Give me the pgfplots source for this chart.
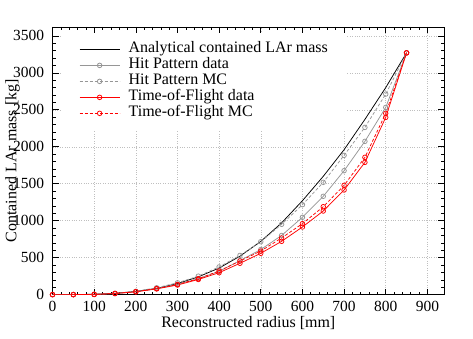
\documentclass[border=0pt]{standalone}
\usepackage{fontspec}
\setmainfont{Liberation Serif}
\usepackage{pgfplots}
\pgfplotsset{compat=1.18}
\definecolor{tofred}{RGB}{255,0,0}
\definecolor{hpgray}{RGB}{150,150,150}

\begin{document}
\fontsize{16}{18}\selectfont
\begin{tikzpicture}
\begin{axis}[
  scale only axis,
  width=392pt, height=268pt,
  xmin=0, xmax=940,
  ymin=0, ymax=3620,
  xtick={0,100,...,900},
  ytick={0,500,...,3500},
  minor x tick num=4,
  minor y tick num=4,
  tick align=inside,
  major tick length=6pt,
  minor tick length=3pt,
  axis line style={line width=0.9pt},
  every tick/.style={black, line width=0.6pt},
  grid=major,
  grid style={dotted, gray!50, line width=0.5pt},
  /pgf/number format/1000 sep={},
  /pgf/number format/assume math mode=true,
  ticklabel style={font=\fontsize{15.5}{17}\selectfont},
  yticklabel style={xshift=-3pt},
  xticklabel style={yshift=-1pt},
  xlabel={Reconstructed radius [mm]},
  ylabel={Contained LAr mass [kg]},
  every axis x label/.style={at={(axis description cs:0.5,-0.124)}, anchor=base,
    font=\fontsize{16}{18}\selectfont},
  every axis y label/.style={at={(axis description cs:-0.102,0.5)}, rotate=90,
    anchor=center, font=\fontsize{16}{18}\selectfont},
  legend style={draw=white, fill=white, line width=0.1pt,
    inner xsep=18pt, inner ysep=8pt,
    at={(0.022,0.976)}, anchor=north west,
    font=\fontsize{16}{17}\selectfont, row sep=0pt, column sep=8pt,
    nodes={inner sep=0.5pt, text height=11pt, text depth=4pt}},
  legend cell align=left,
  legend image code/.code={%
    \draw[#1, line width=1pt] (0pt,0pt) -- (40pt,0pt);
    \draw[#1, line width=0.8pt] plot coordinates {(20pt,0pt)};},
  every axis plot/.append style={line width=0.75pt, mark size=2.3pt},
]
\addplot[black, no marks] coordinates {
 (0,0) (50,1) (100,5) (150,18) (200,43) (250,85) (300,150) (350,240)
 (400,360) (450,520) (500,720) (550,970) (600,1270) (650,1600) (700,1960)
 (750,2370) (800,2800) (850,3270)};
\addlegendentry{Analytical contained LAr mass}
\addplot[color=hpgray, mark=o] coordinates {
 (0,0) (50,0) (100,3) (150,15) (200,40) (250,80) (300,140) (350,215)
 (400,315) (450,460) (500,610) (550,800) (600,1046) (650,1330) (700,1676)
 (750,2073) (800,2532) (850,3270)};
\addlegendentry{Hit Pattern data}
\addplot[color=hpgray, densely dashed, mark=o, mark options={solid}] coordinates {
 (0,0) (50,0) (100,4) (150,17) (200,45) (250,93) (300,160) (350,250)
 (400,375) (450,530) (500,716) (550,951) (600,1216) (650,1519) (700,1884)
 (750,2262) (800,2712) (850,3270)};
\addlegendentry{Hit Pattern MC}
\addplot[color=tofred, mark=o] coordinates {
 (0,0) (50,0) (100,3) (150,15) (200,38) (250,78) (300,130) (350,205)
 (400,297) (450,424) (500,559) (550,721) (600,915) (650,1131) (700,1415)
 (750,1789) (800,2397) (850,3270)};
\addlegendentry{Time-of-Flight data}
\addplot[color=tofred, densely dashed, mark=o, mark options={solid}] coordinates {
 (0,0) (50,0) (100,3) (150,16) (200,40) (250,82) (300,137) (350,215)
 (400,320) (450,455) (500,590) (550,766) (600,960) (650,1189) (700,1478)
 (750,1857) (800,2451) (850,3270)};
\addlegendentry{Time-of-Flight MC}
\end{axis}
\path (current axis.south west) ++(-52pt,-44pt) (current axis.north east) ++(29pt,27pt);
\end{tikzpicture}
\end{document}
